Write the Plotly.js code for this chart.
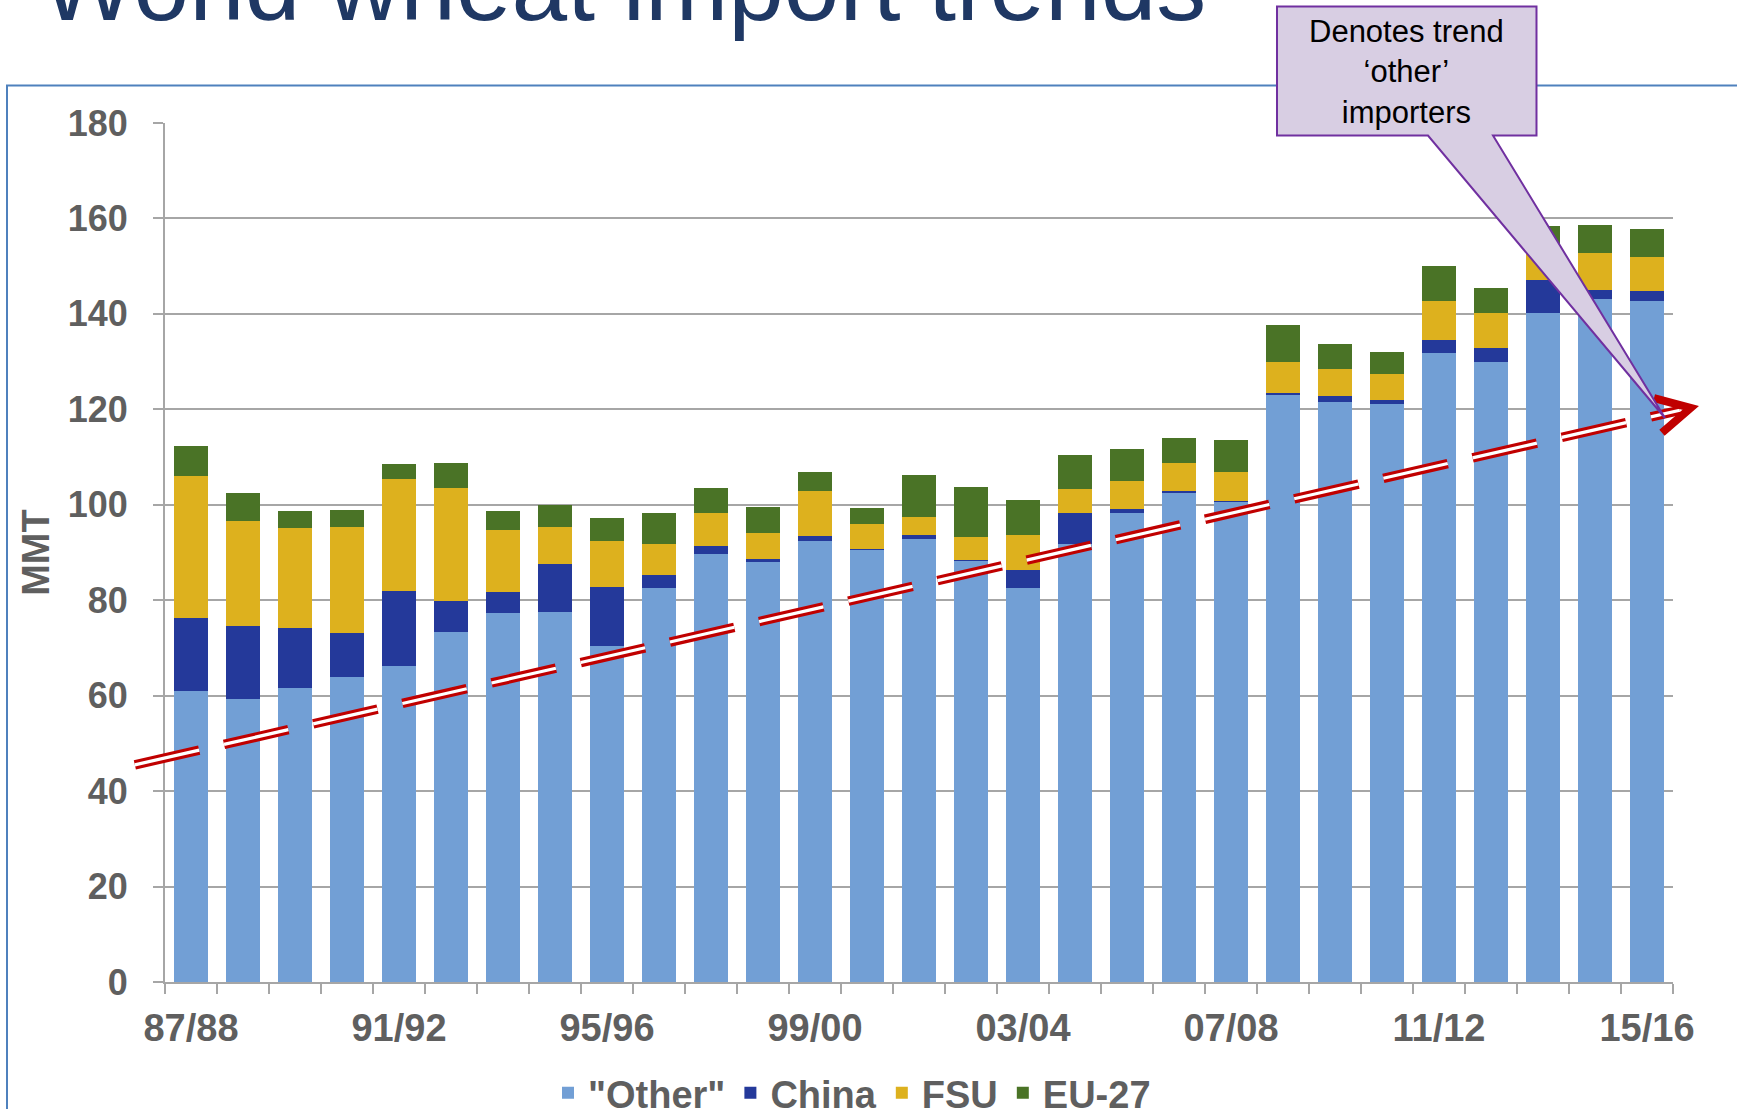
<!DOCTYPE html>
<html>
<head>
<meta charset="utf-8">
<script src="https://cdn.plot.ly/plotly-3.0.1.min.js"></script>
<style>html,body{margin:0;padding:0;background:#fff;}#chart{width:1737px;height:1109px;}</style>
</head>
<body>
<div id="chart"></div>
<script>
// ---- Data (million metric tons) ----
const categories = ['87/88','88/89','89/90','90/91','91/92','92/93','93/94','94/95','95/96','96/97',
  '97/98','98/99','99/00','00/01','01/02','02/03','03/04','04/05','05/06','06/07',
  '07/08','08/09','09/10','10/11','11/12','12/13','13/14','14/15','15/16'];
const labelledCategories = ['87/88','91/92','95/96','99/00','03/04','07/08','11/12','15/16'];
const seriesNames = ['"Other"','China','FSU','EU-27'];
const other = [61.0,59.2,61.7,63.9,66.2,73.3,77.4,77.5,70.4,82.6,89.7,88.0,92.5,90.6,92.8,88.2,82.6,91.7,98.2,102.4,100.5,123.0,121.5,121.1,131.8,130.0,140.2,143.1,142.8];
const china = [15.2,15.3,12.5,9.2,15.7,6.5,4.3,10.1,12.4,2.6,1.7,0.7,0.9,0.2,0.8,0.3,3.7,6.5,1.0,0.4,0.2,0.5,1.3,0.8,2.8,2.9,6.8,1.9,1.9];
const fsu = [29.8,22.2,21.0,22.2,23.4,23.8,13.0,7.7,9.6,6.6,6.9,5.3,9.5,5.2,3.9,4.7,7.3,5.2,5.7,6.0,6.2,6.5,5.6,5.6,8.1,7.3,6.0,7.7,7.2];
const eu27 = [6.3,5.7,3.6,3.7,3.2,5.2,3.9,4.6,4.8,6.4,5.3,5.6,3.9,3.4,8.7,10.5,7.4,7.1,6.7,5.1,6.7,7.7,5.2,4.5,7.4,5.2,5.4,5.9,5.9];

// Trend arrow annotation in data units (category index, MMT)
const trendStart = {x: -1.08, y: 45.5};
const trendEnd = {x: 28.63, y: 119.8};
const trendTip = {x: 28.84, y: 120.3};

const titleText = 'World wheat import trends';
const calloutText = 'Denotes trend<br>\u2018other\u2019<br>importers';

// ---- Layout constants ----
const W = 1737, H = 1109;
const M = {l: 165, r: 64, t: 123, b: 127};
const PW = W - M.l - M.r, PH = H - M.t - M.b;
const YMAX = 180;
const FONT = 'Liberation Sans, Arial, sans-serif';
const GRAY = '#5f5f5f';
const AX = '#a6a6a6';

const colors = ['#729fd5', '#24399a', '#ddb11e', '#4a7326'];

// pixel -> paper
const px = x => (x - M.l) / PW;
const py = y => (H - M.b - y) / PH;
// data -> pixel
const dx = i => M.l + (i + 0.5) * PW / categories.length;
const dy = v => H - M.b - v * PH / YMAX;

const series = [other, china, fsu, eu27];
const traces = series.map((vals, k) => ({
  type: 'bar',
  name: seriesNames[k],
  x: categories,
  y: vals,
  marker: {color: colors[k], line: {width: 0}},
  hoverinfo: 'x+y+name'
}));

// Trend line geometry
const sx = dx(trendStart.x), sy = dy(trendStart.y);
const ex = dx(trendEnd.x), ey = dy(trendEnd.y);
const tx = dx(trendTip.x), ty = dy(trendTip.y);
let ddx = tx - sx, ddy = ty - sy; const L = Math.hypot(ddx, ddy);
const bx = -ddx / L, by = -ddy / L;
const ang = 28 * Math.PI / 180, arm = 38;
const a1x = tx + arm * (bx * Math.cos(ang) - by * Math.sin(ang));
const a1y = ty + arm * (bx * Math.sin(ang) + by * Math.cos(ang));
const a2x = tx + arm * (bx * Math.cos(ang) + by * Math.sin(ang));
const a2y = ty + arm * (-bx * Math.sin(ang) + by * Math.cos(ang));
const P = (x, y) => px(x).toFixed(5) + ',' + py(y).toFixed(5);

const dashPat = '66px,25.5px';
const RED = '#c00000';

// Callout polygon (pixels)
const cb = {x0: 1277, x1: 1536.5, y0: 6.5, y1: 135.5, p0: 1428, p1: 1493, tipx: 1665, tipy: 418};
const calloutPath = 'M' + P(cb.x0, cb.y0) + 'L' + P(cb.x1, cb.y0) + 'L' + P(cb.x1, cb.y1) +
  'L' + P(cb.p1, cb.y1) + 'L' + P(cb.tipx, cb.tipy) + 'L' + P(cb.p0, cb.y1) + 'L' + P(cb.x0, cb.y1) + 'Z';

const shapes = [
  // slide frame
  {type: 'rect', xref: 'paper', yref: 'paper', x0: px(7), x1: px(1760), y0: py(85.5), y1: py(1140),
   line: {color: '#4f81bd', width: 2}, fillcolor: 'rgba(0,0,0,0)', layer: 'below'},
  // double dashed trend line
  {type: 'line', xref: 'paper', yref: 'paper', x0: px(sx), y0: py(sy), x1: px(ex), y1: py(ey),
   line: {color: RED, width: 9.5, dash: dashPat}, layer: 'above'},
  {type: 'line', xref: 'paper', yref: 'paper', x0: px(sx), y0: py(sy), x1: px(ex), y1: py(ey),
   line: {color: '#ffffff', width: 3.2, dash: dashPat}, layer: 'above'},
  // chevron head
  {type: 'path', xref: 'paper', yref: 'paper', path: 'M' + P(a1x, a1y) + 'L' + P(tx, ty) + 'L' + P(a2x, a2y),
   line: {color: RED, width: 8}, fillcolor: 'rgba(0,0,0,0)', layer: 'above'},
  // callout
  {type: 'path', xref: 'paper', yref: 'paper', path: calloutPath,
   line: {color: '#7030a0', width: 2}, fillcolor: '#d8cee3', layer: 'above'}
];

const annotations = [
  {text: titleText, xref: 'paper', yref: 'paper', x: px(39), y: py(43), xanchor: 'left', yanchor: 'bottom',
   showarrow: false, font: {family: FONT, size: 100, color: '#1f3864'}},
  {text: calloutText, xref: 'paper', yref: 'paper', x: px((cb.x0 + cb.x1) / 2), y: py(72), xanchor: 'center', yanchor: 'middle',
   showarrow: false, font: {family: FONT, size: 31, color: '#000000'}}
];

const layout = {
  width: W, height: H,
  margin: {l: M.l, r: M.r, t: M.t, b: M.b, autoexpand: false},
  paper_bgcolor: '#ffffff', plot_bgcolor: '#ffffff',
  barmode: 'stack', bargap: 0.346,
  font: {family: FONT, color: GRAY},
  showlegend: true,
  legend: {orientation: 'h', x: px(852), xanchor: 'center', y: py(1093), yanchor: 'middle',
    font: {family: FONT, size: 38, color: GRAY, weight: 'bold'}, bgcolor: 'rgba(0,0,0,0)', traceorder: 'normal'},
  xaxis: {
    type: 'category', categoryorder: 'array', categoryarray: categories,
    range: [-0.5, categories.length - 0.5],
    tickvals: categories,
    ticktext: categories.map(c => labelledCategories.includes(c) ? c : ''),
    tickangle: 0,
    tickson: 'boundaries', ticks: 'outside', ticklen: 10, tickwidth: 1.5, tickcolor: AX,
    showline: true, linecolor: AX, linewidth: 2, showgrid: false, zeroline: false,
    tickfont: {family: FONT, size: 38, color: GRAY, weight: 'bold'}, ticklabelstandoff: 11,
    fixedrange: true
  },
  yaxis: {
    range: [0, YMAX], dtick: 20, tick0: 0,
    showgrid: true, gridcolor: AX, gridwidth: 2,
    showline: true, linecolor: AX, linewidth: 2,
    ticks: 'outside', ticklen: 10, tickwidth: 2, tickcolor: AX,
    zeroline: false,
    tickfont: {family: FONT, size: 36, color: GRAY, weight: 'bold'}, ticklabelstandoff: 18,
    title: {text: 'MMT', font: {family: FONT, size: 38, color: GRAY, weight: 'bold'}, standoff: 6},
    fixedrange: true
  },
  shapes: shapes,
  annotations: annotations
};

Plotly.newPlot('chart', traces, layout, {displayModeBar: false, staticPlot: true});
</script>
</body>
</html>
